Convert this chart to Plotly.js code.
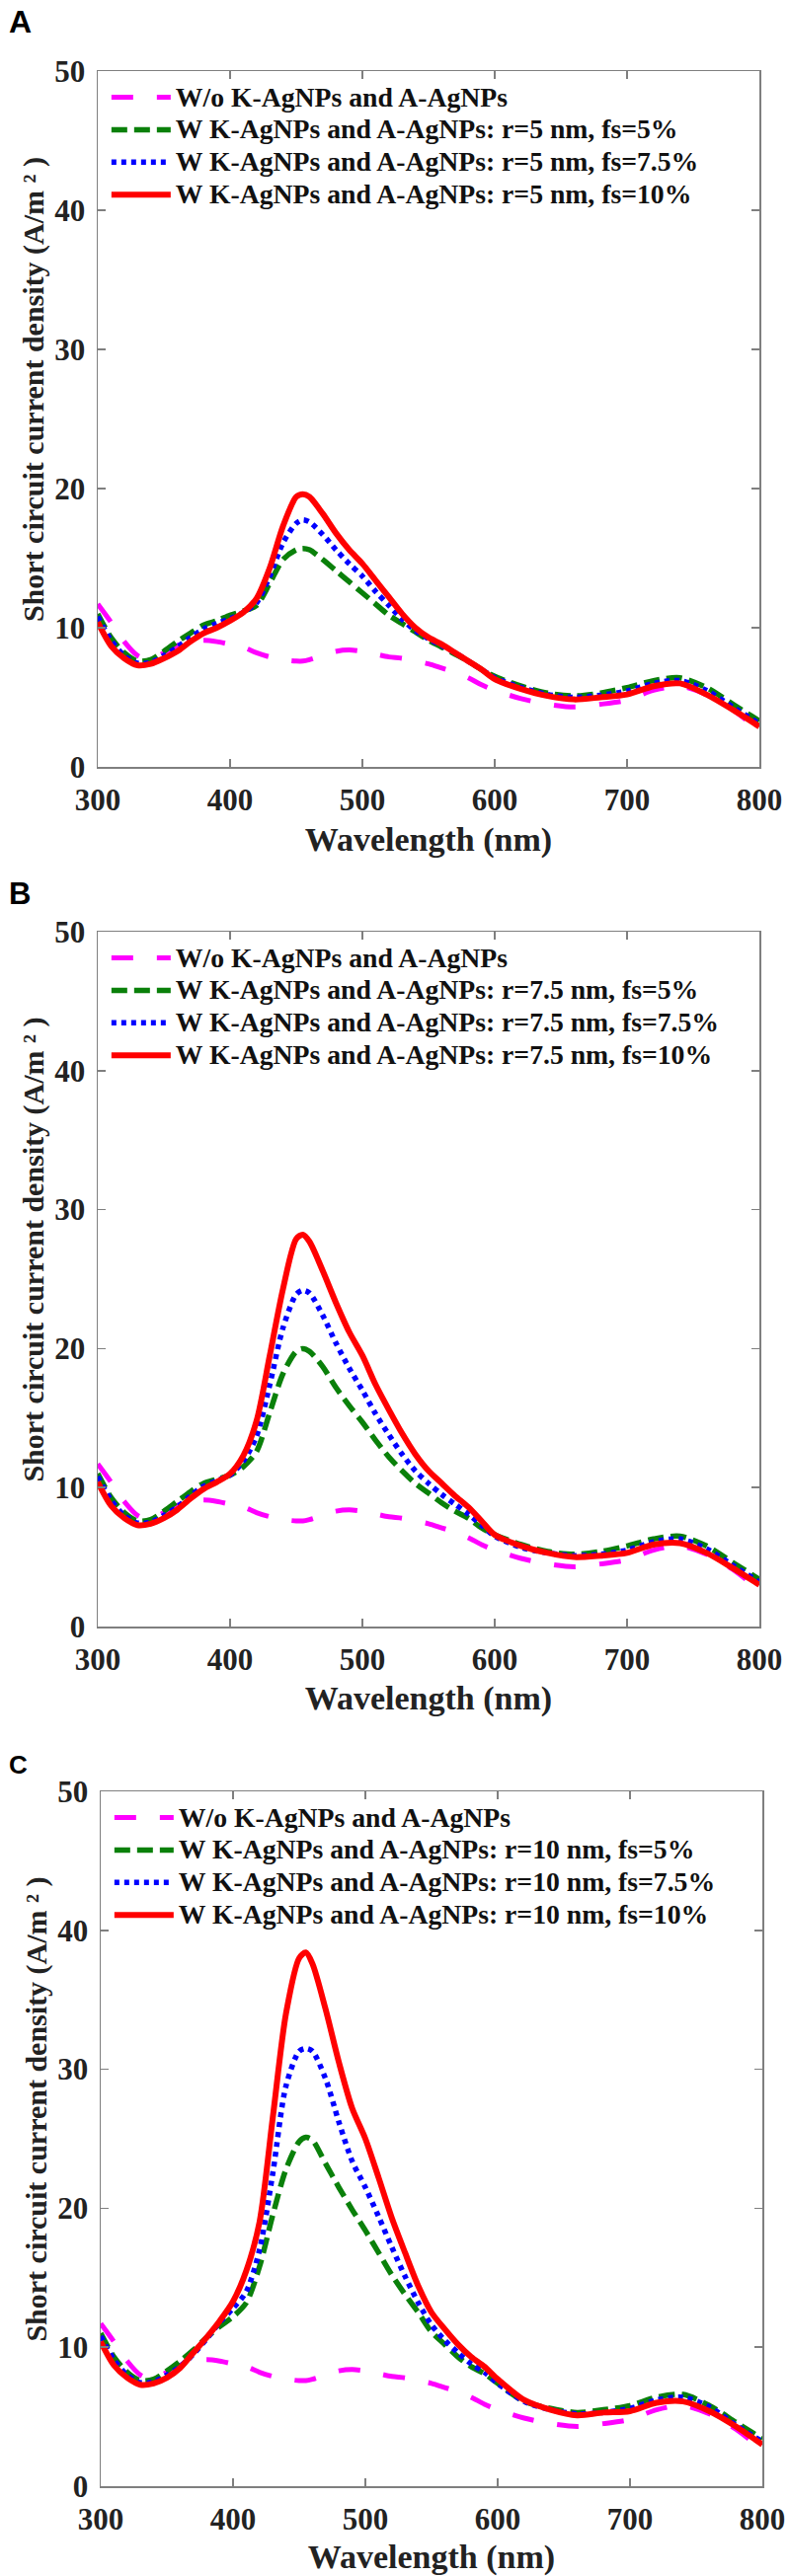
<!DOCTYPE html>
<html>
<head>
<meta charset="utf-8">
<script src="https://cdn.plot.ly/plotly-3.0.1.min.js"></script>
<style>
body{margin:0;padding:0;background:#ffffff;}
.panel{width:798px;height:870px;}
</style>
</head>
<body>
<div id="panelA" class="panel"></div>
<div id="panelB" class="panel"></div>
<div id="panelC" class="panel"></div>
<script>
/* ==========================================================
   Short circuit current density vs wavelength
   three panels: r = 5 nm, 7.5 nm, 10 nm
========================================================== */


// ==========================================================
// DATA
// ==========================================================

let wavelength = [300,310,320,330,340,350,360,370,380,390,400,410,420,430,440,450,455,
    460,470,480,490,500,510,520,530,540,550,560,570,580,590,600,
    620,640,660,680,700,720,740,760,780,800];

// without nanoparticles (same reference curve in every panel)
let withoutNPs = [11.7,10.4,9.0,8.0,7.7,8.2,8.7,9.0,9.1,9.0,8.8,8.6,8.2,7.9,7.7,7.6,7.6,
    7.7,8.0,8.3,8.4,8.3,8.1,7.9,7.8,7.6,7.4,7.1,6.8,6.4,5.9,5.5,
    4.9,4.5,4.3,4.5,4.8,5.5,5.8,5.2,4.1,2.6];

// panel A : r = 5 nm
let r5fs5 = [11.0,9.3,8.2,7.6,7.7,8.3,9.0,9.6,10.2,10.5,10.9,11.2,11.6,13.2,14.9,15.6,15.7,
    15.6,14.9,14.1,13.3,12.5,11.7,10.9,10.3,9.7,9.1,8.6,8.1,7.6,7.0,6.5,
    5.8,5.3,5.1,5.3,5.7,6.2,6.4,5.7,4.5,3.3];
let r5fs75 = [10.8,9.1,8.0,7.45,7.5,8.0,8.6,9.3,9.9,10.3,10.65,11.1,11.8,13.7,16.1,17.5,17.75,
    17.6,16.7,15.6,14.6,13.7,12.6,11.6,10.6,9.8,9.2,8.7,8.2,7.6,7.0,6.4,
    5.7,5.2,5.0,5.15,5.45,6.0,6.2,5.5,4.3,3.1];
let r5fs10 = [10.4,8.7,7.8,7.3,7.4,7.8,8.3,9.0,9.6,10.0,10.5,11.1,12.1,14.3,17.3,19.4,19.6,
    19.4,18.2,16.8,15.6,14.6,13.4,12.2,11.0,10.0,9.3,8.8,8.2,7.6,7.0,6.3,
    5.6,5.1,4.85,5.0,5.2,5.8,6.0,5.2,4.1,2.9];

// panel B : r = 7.5 nm
let r75fs5 = [11.0,9.3,8.2,7.6,7.7,8.3,9.0,9.7,10.3,10.6,10.9,11.5,12.6,15.4,18.2,19.8,20.0,
    19.8,18.7,17.2,15.9,14.7,13.4,12.2,11.2,10.3,9.6,8.9,8.3,7.8,7.1,6.6,
    5.9,5.4,5.2,5.4,5.8,6.3,6.5,5.8,4.6,3.4];
let r75fs75 = [10.8,9.1,8.0,7.45,7.5,8.0,8.6,9.4,10.1,10.5,10.9,11.9,13.7,17.4,21.5,23.9,24.2,
    24.0,22.4,20.4,18.6,17.0,15.3,13.8,12.4,11.2,10.3,9.5,8.8,8.1,7.3,6.5,
    5.7,5.3,5.1,5.2,5.5,6.1,6.3,5.6,4.4,3.2];
let r75fs10 = [10.4,8.7,7.8,7.3,7.4,7.8,8.4,9.2,9.9,10.4,11.0,12.3,14.8,19.5,24.3,27.9,28.2,
    27.7,25.6,23.3,21.2,19.5,17.4,15.6,13.9,12.4,11.2,10.3,9.4,8.6,7.6,6.6,
    5.8,5.3,5.0,5.1,5.3,5.9,6.0,5.3,4.2,3.0];

// panel C : r = 10 nm
let r10fs5 = [11.0,9.3,8.2,7.6,7.7,8.3,9.0,9.8,10.7,11.5,12.2,13.2,15.8,19.5,22.8,24.8,25.1,
    24.9,23.2,21.5,19.9,18.4,16.8,15.2,13.8,12.5,11.1,10.2,9.3,8.6,8.1,7.4,
    6.1,5.6,5.3,5.5,5.8,6.4,6.6,5.8,4.6,3.4];
let r10fs75 = [10.8,9.1,8.0,7.45,7.5,8.0,8.6,9.5,10.6,11.8,12.8,14.0,17.0,22.5,28.8,31.3,31.5,
    31.3,29.3,26.2,23.4,21.5,19.4,17.2,15.1,13.2,11.6,10.5,9.6,8.8,8.2,7.4,
    6.1,5.5,5.2,5.3,5.6,6.2,6.4,5.7,4.4,3.2];
let r10fs10 = [10.4,8.7,7.8,7.3,7.4,7.8,8.5,9.6,10.7,11.9,13.3,15.5,19.0,26.5,34.0,38.0,38.4,
    37.6,34.3,30.5,27.2,25.0,22.2,19.3,16.8,14.4,12.5,11.3,10.2,9.3,8.6,7.7,
    6.2,5.5,5.1,5.3,5.4,6.0,6.1,5.4,4.3,3.0];

let panelLetters = ["A", "B", "C"];
let radiusLabels = ["5", "7.5", "10"];
let fillLabels = ["5%", "7.5%", "10%"];
let xTicks = [300, 400, 500, 600, 700, 800];
let yTicks = [0, 10, 20, 30, 40, 50];


// ==========================================================
// STYLE
// ==========================================================

let serif = "Liberation Serif, Times New Roman, serif";
let axisGrey = "#7f7f7f";

let lineStyles = [
    {color: "#ff00ff", width: 5, dash: "22px,24px"},
    {color: "#0a800a", width: 5.5, dash: "16px,7px"},
    {color: "#0000ff", width: 5.5, dash: "5px,5px"},
    {color: "#ff0000", width: 6, dash: "solid"}
];

let plotConfig = {displayModeBar: false, staticPlot: true};

// zero-width space keeps the leading no-break spaces from being trimmed,
// they lift the visible title a little above the axis centre like the original
let yTitleText = "\u200b" + "\u00a0".repeat(8) +
    "Short circuit current density (A/m \u00b2 )";


function legendName(text){

    return '<span style="font-size:27.7px">' + text + '</span>';

}


function makeTraces(panel, series){

    let names = ["W/o K-AgNPs and A-AgNPs"];

    fillLabels.forEach(fs => {
        names.push(
            "W K-AgNPs and A-AgNPs: r=" + radiusLabels[panel] + " nm, fs=" + fs
        );
    });

    let all = [withoutNPs].concat(series);

    return all.map((values, i) => ({
        x: wavelength,
        y: values,
        type: "scatter",
        mode: "lines",
        name: legendName(names[i]),
        line: {
            color: lineStyles[i].color,
            width: lineStyles[i].width,
            dash: lineStyles[i].dash,
            shape: "spline",
            smoothing: 0.8
        }
    }));

}


function makeLayout(panel, margin, labelTop, labelSize){

    let tickFont = {family: serif, size: 31, weight: "bold", color: "#222222"};

    return {
        width: 798,
        height: 870,
        margin: margin,
        paper_bgcolor: "#ffffff",
        plot_bgcolor: "#ffffff",
        showlegend: true,

        title: {
            text: panelLetters[panel],
            xref: "container",
            yref: "container",
            x: 9 / 798,
            xanchor: "left",
            y: 1 - labelTop / 870,
            yanchor: "top",
            font: {family: "Liberation Sans, Arial, sans-serif", size: labelSize, weight: "bold", color: "#000000"}
        },

        xaxis: {
            range: [300, 800],
            tickvals: xTicks,
            ticks: "inside",
            ticklen: 8,
            tickwidth: 1.5,
            tickcolor: axisGrey,
            showline: true,
            linecolor: axisGrey,
            linewidth: 1.5,
            mirror: "ticks",
            showgrid: false,
            zeroline: false,
            tickfont: tickFont,
            ticklabelstandoff: 5,
            title: {
                text: "Wavelength (nm)",
                standoff: 11,
                font: {family: serif, size: 34, weight: "bold", color: "#222222"}
            }
        },

        yaxis: {
            range: [0, 50],
            tickvals: yTicks,
            ticks: "inside",
            ticklen: 8,
            tickwidth: 1.5,
            tickcolor: axisGrey,
            showline: true,
            linecolor: axisGrey,
            linewidth: 1.5,
            mirror: "ticks",
            showgrid: false,
            zeroline: false,
            tickfont: tickFont,
            ticklabelstandoff: 5,
            title: {
                text: yTitleText,
                standoff: 2,
                font: {family: serif, size: 30, weight: "bold", color: "#222222"}
            }
        },

        legend: {
            x: 0.0132,
            y: 0.9928,
            xanchor: "left",
            yanchor: "top",
            bgcolor: "rgba(0,0,0,0)",
            borderwidth: 0,
            itemwidth: 60,
            tracegroupgap: 0,
            font: {family: serif, size: 23, weight: "bold", color: "#111111"}
        }
    };

}


// ==========================================================
// DRAW
// ==========================================================

document.addEventListener("DOMContentLoaded", function(){

    Plotly.newPlot(
        "panelA",
        makeTraces(0, [r5fs5, r5fs75, r5fs10]),
        makeLayout(0, {l: 99, r: 29, t: 72, b: 93}, 11, 32),
        plotConfig
    );

    Plotly.newPlot(
        "panelB",
        makeTraces(1, [r75fs5, r75fs75, r75fs10]),
        makeLayout(1, {l: 99, r: 29, t: 74, b: 92}, 24, 31),
        plotConfig
    );

    Plotly.newPlot(
        "panelC",
        makeTraces(2, [r10fs5, r10fs75, r10fs10]),
        makeLayout(2, {l: 102, r: 26, t: 75, b: 91}, 39, 26),
        plotConfig
    );

});
</script>
</body>
</html>
